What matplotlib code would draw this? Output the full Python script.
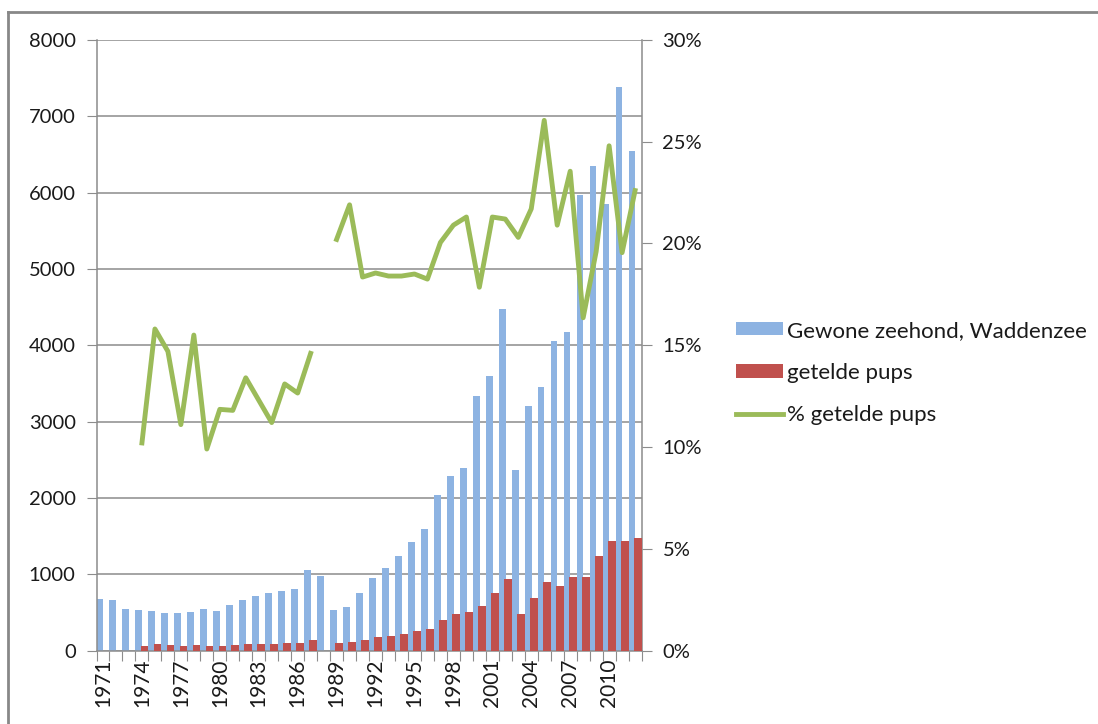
import numpy as np
import matplotlib.pyplot as plt
from matplotlib.lines import Line2D

years = list(range(1971, 2013))

# Gewone zeehond, Waddenzee (totaal geteld)
totaal = [680, 660, 550, 537, 520, 488, 488, 506, 550, 520,
          598, 660, 720, 750, 781, 811, 1051, 977, 537, 565,
          750, 947, 1082, 1239, 1418, 1588, 2033, 2290, 2395, 3330,
          3600, 4470, 2369, 3198, 3450, 4060, 4170, 5975, 6348, 5855,
          7386, 6545]

# getelde pups (geen telling 1971-1973 en 1988)
pups = [np.nan, np.nan, np.nan, 56, 82, 69, 56, 69, 56, 56,
        69, 82, 82, 82, 95, 95, 144, np.nan, 95, 113,
        135, 174, 191, 222, 253, 283, 406, 479, 510, 589,
        754, 937, 479, 694, 894, 846, 969, 969, 1243, 1440,
        1440, 1470]

# % getelde pups
pct = [np.nan, np.nan, np.nan, 10.2, 15.8, 14.7, 11.1, 15.5, 9.9, 11.85,
       11.8, 13.4, 12.3, 11.2, 13.1, 12.65, 14.6, np.nan, 20.2, 21.9,
       18.35, 18.55, 18.4, 18.4, 18.5, 18.25, 20.05, 20.9, 21.3, 17.85,
       21.3, 21.2, 20.3, 21.7, 26.05, 20.9, 23.55, 16.35, 19.6, 24.8,
       19.55, 22.6]

plt.rcParams['font.family'] = ['Lato', 'DejaVu Sans']
tekst = '#1a1a1a'
grijs = '#8c8c8c'

fig = plt.figure(figsize=(10.98, 7.24), dpi=100)
ax = fig.add_axes([0.0879, 0.1015, 0.4964, 0.8433])
x = np.arange(len(years))

ax.bar(x - 0.24, totaal, width=0.52, color='#8DB3E2', label='Gewone zeehond, Waddenzee', zorder=2)
ax.bar(x + 0.2, pups, width=0.6, color='#C0504D', label='getelde pups', zorder=3)

ax.set_xlim(-0.5, len(years) - 0.5)
ax.set_ylim(0, 8000)
ax.set_yticks(range(0, 8001, 1000))
ax.yaxis.grid(True, color=grijs, linewidth=1.1, zorder=0)
ax.set_axisbelow(True)

# tickmarks op de categoriegrenzen, labels om de drie jaar
ax.set_xticks(np.arange(-0.5, len(years), 1))
ax.set_xticklabels([])
ax.set_xticks(x[::3], minor=True)
ax.set_xticklabels([str(y) for y in years[::3]], minor=True, rotation=90)
ax.tick_params(axis='x', which='major', length=7, color=grijs, direction='out')
ax.tick_params(axis='x', which='minor', length=0, pad=6, labelsize=15, labelcolor=tekst)
ax.tick_params(axis='y', length=7, color=grijs, pad=8, labelsize=14.5, labelcolor=tekst)

for s in ['left', 'right', 'bottom']:
    ax.spines[s].set_color(grijs)
    ax.spines[s].set_linewidth(1.1)
ax.spines['top'].set_visible(False)

ax2 = ax.twinx()
ax2.plot(x, pct, color='#9BBB59', linewidth=3.5, label='% getelde pups', zorder=4)
ax2.set_ylim(0, 30)
ax2.set_yticks(range(0, 31, 5))
ax2.set_yticklabels([f'{v}%' for v in range(0, 31, 5)])
ax2.tick_params(axis='y', length=7, color=grijs, pad=8, labelsize=14.5, labelcolor=tekst)
for s in ['left', 'right', 'bottom', 'top']:
    ax2.spines[s].set_visible(False)

h1, l1 = ax.get_legend_handles_labels()
h2, l2 = ax2.get_legend_handles_labels()
fig.legend(h1 + h2, l1 + l2, loc='center left', bbox_to_anchor=(0.652, 0.485),
           frameon=False, fontsize=16, labelcolor=tekst, handlelength=2.1,
           handleheight=0.55, handletextpad=0.22, labelspacing=1.0)

# kader van de oorspronkelijke afbeelding
fig.add_artist(Line2D([8 / 1098, 8 / 1098], [0, 1 - 12 / 724], color='#888888', linewidth=2))
fig.add_artist(Line2D([8 / 1098, 1], [1 - 12 / 724, 1 - 12 / 724], color='#888888', linewidth=2))

fig.savefig('out.png', dpi=100)
